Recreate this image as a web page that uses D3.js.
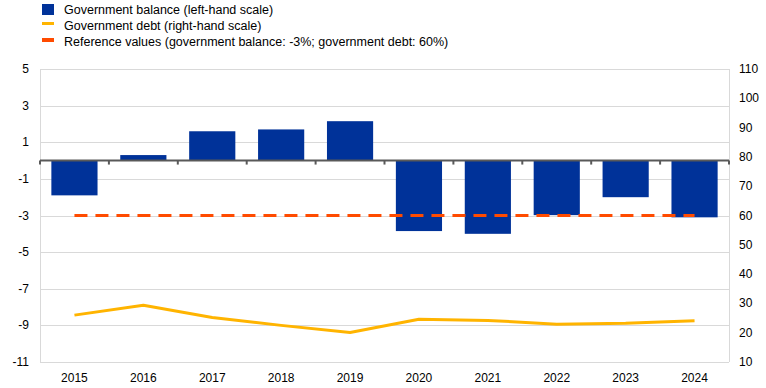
<!DOCTYPE html>
<html>
<head>
<meta charset="utf-8">
<script src="https://cdn.jsdelivr.net/npm/d3@7"></script>
<style>
  body { margin: 0; background: #fff; }
  text { font-family: "Liberation Sans", Arial, sans-serif; }
</style>
</head>
<body>
<div id="chart"></div>
<script>
// chart data
let years = ["2015", "2016", "2017", "2018", "2019", "2020", "2021", "2022", "2023", "2024"];
let balance = [-1.9, 0.3, 1.6, 1.7, 2.15, -3.85, -4.0, -2.98, -2.0, -3.1];
let debt = [26.0, 29.4, 25.2, 22.5, 20.1, 24.6, 24.2, 22.9, 23.2, 24.1];
let leftTicks = [5, 3, 1, -1, -3, -5, -7, -9, -11];
let rightTicks = [110, 100, 90, 80, 70, 60, 50, 40, 30, 20, 10];
let refBalance = -3;
let legendLabels = [
  "Government balance (left-hand scale)",
  "Government debt (right-hand scale)",
  "Reference values (government balance: -3%; government debt: 60%)"
];

let width = 766, height = 388;
let margin = {top: 69, right: 37, bottom: 26, left: 40};

let blue = "#003299", yellow = "#ffb400", orange = "#ff4b00";
let gridColor = "#d9d9d9", axisColor = "#595959", textColor = "#000";

let svg = d3.select("#chart").append("svg")
  .attr("width", width)
  .attr("height", height);

let x = d3.scaleBand()
  .domain(years)
  .range([margin.left, width - margin.right])
  .paddingInner(0.33)
  .paddingOuter(0.165);

let yL = d3.scaleLinear().domain([-11, 5]).range([height - margin.bottom, margin.top]);
let yR = d3.scaleLinear().domain([10, 110]).range([height - margin.bottom, margin.top]);

// gridlines
svg.append("g")
  .selectAll("line")
  .data(leftTicks)
  .enter().append("line")
  .attr("x1", margin.left)
  .attr("x2", width - margin.right)
  .attr("y1", d => Math.round(yL(d)) + 0.5)
  .attr("y2", d => Math.round(yL(d)) + 0.5)
  .attr("stroke", gridColor)
  .attr("stroke-width", 1);

// side frame lines
[margin.left, width - margin.right].forEach(function(xx) {
  svg.append("line")
    .attr("x1", xx + 0.5).attr("x2", xx + 0.5)
    .attr("y1", yL(5)).attr("y2", yL(-11))
    .attr("stroke", gridColor);
});

// left axis labels
svg.append("g")
  .selectAll("text")
  .data(leftTicks)
  .enter().append("text")
  .attr("x", 29)
  .attr("y", d => yL(d) + 4)
  .attr("text-anchor", "end")
  .style("font-size", "12px")
  .style("fill", textColor)
  .text(d => d);

// right axis labels
svg.append("g")
  .selectAll("text")
  .data(rightTicks)
  .enter().append("text")
  .attr("x", 739)
  .attr("y", d => yR(d) + 4)
  .attr("text-anchor", "start")
  .style("font-size", "12px")
  .style("fill", textColor)
  .text(d => d);

// bars
svg.append("g")
  .selectAll("rect")
  .data(years)
  .enter().append("rect")
  .attr("x", d => x(d))
  .attr("width", x.bandwidth())
  .attr("y", (d, i) => yL(Math.max(0, balance[i])))
  .attr("height", (d, i) => Math.abs(yL(balance[i]) - yL(0)))
  .attr("fill", blue);

// zero axis line with ticks
let zeroY = yL(0);
svg.append("line")
  .attr("x1", margin.left)
  .attr("x2", width - margin.right)
  .attr("y1", zeroY)
  .attr("y2", zeroY)
  .attr("stroke", axisColor)
  .attr("stroke-width", 2);

let tickXs = d3.range(years.length + 1).map(i => margin.left + i * (width - margin.left - margin.right) / years.length);
svg.append("g")
  .selectAll("line")
  .data(tickXs)
  .enter().append("line")
  .attr("x1", d => d)
  .attr("x2", d => d)
  .attr("y1", zeroY)
  .attr("y2", zeroY + 4)
  .attr("stroke", axisColor)
  .attr("stroke-width", 2);

// reference line (-3% / 60%)
let cx = d => x(d) + x.bandwidth() / 2;
svg.append("line")
  .attr("x1", cx(years[0]))
  .attr("x2", cx(years[years.length - 1]))
  .attr("y1", yL(refBalance))
  .attr("y2", yL(refBalance))
  .attr("stroke", orange)
  .attr("stroke-width", 3)
  .attr("stroke-dasharray", "13,8");

// debt line
let line = d3.line()
  .x((d, i) => cx(years[i]))
  .y(d => yR(d));

svg.append("path")
  .datum(debt)
  .attr("d", line)
  .attr("fill", "none")
  .attr("stroke", yellow)
  .attr("stroke-width", 3)
  .attr("stroke-linejoin", "round");

// x labels
svg.append("g")
  .selectAll("text")
  .data(years)
  .enter().append("text")
  .attr("x", d => cx(d))
  .attr("y", 381.5)
  .attr("text-anchor", "middle")
  .style("font-size", "12px")
  .style("fill", textColor)
  .text(d => d);

// legend
let legend = svg.append("g");
legend.append("rect").attr("x", 42).attr("y", 4).attr("width", 12).attr("height", 11).attr("fill", blue);
legend.append("rect").attr("x", 42).attr("y", 22).attr("width", 12).attr("height", 3).attr("fill", yellow);
legend.append("rect").attr("x", 42).attr("y", 38).attr("width", 12).attr("height", 4).attr("fill", orange);

legend.selectAll("text")
  .data(legendLabels)
  .enter().append("text")
  .attr("x", 64)
  .attr("y", (d, i) => 14.3 + i * 15.7)
  .style("font-size", "12.5px")
  .style("fill", textColor)
  .text(d => d);
</script>
</body>
</html>
